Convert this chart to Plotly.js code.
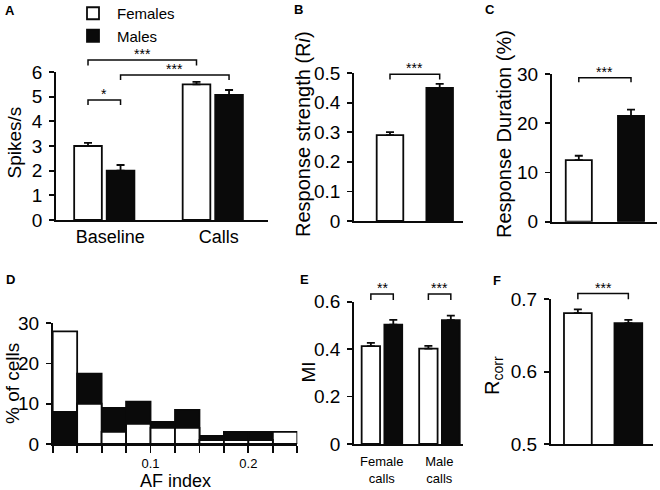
<!DOCTYPE html>
<html>
<head>
<meta charset="utf-8">
<script src="https://cdn.plot.ly/plotly-3.0.1.min.js"></script>
<style>
  html, body { margin: 0; padding: 0; background: #fff; }
  #plot { width: 660px; height: 490px; }
</style>
</head>
<body>
<div id="plot"></div>
<script>
// ---- data ----
const sexes = ['Females', 'Males'];

// A: firing rate
const conditions = ['Baseline', 'Calls'];
const spikesFemales = [3.0, 5.5];
const spikesFemalesErr = [0.13, 0.1];
const spikesMales = [2.0, 5.07];
const spikesMalesErr = [0.23, 0.2];

// B: response strength (females, males)
const respStrength = [0.29, 0.45];
const respStrengthErr = [0.01, 0.013];

// C: response duration (%)
const respDuration = [12.5, 21.5];
const respDurationErr = [0.9, 1.25];

// D: AF index histogram (% of cells)
const afBinStart = 0;
const afBinWidth = 0.025;
const afFemales = [28, 10, 3, 5, 4, 4, 1, 1, 1, 3];
const afMales = [8, 17.5, 9, 10.5, 5.5, 8.5, 2, 3, 3, 0];
const afTickVals = [0.1, 0.2];
const afTickText = ['0.1', '0.2'];

// E: MI
const callTypes = ['Female<br>calls', 'Male<br>calls'];
const miFemales = [0.413, 0.402];
const miFemalesErr = [0.013, 0.012];
const miMales = [0.503, 0.522];
const miMalesErr = [0.02, 0.019];

// F: Rcorr
const rcorr = [0.681, 0.667];
const rcorrErr = [0.005, 0.0045];

// significance brackets: [x0, x1, y, dip, stars]
const sigA = [[-0.15, 0.15, 4.86, 0.2, '*'], [-0.15, 0.85, 6.49, 0.23, '***'], [0.15, 1.15, 5.88, 0.2, '***']];
const sigB = [[0, 1, 0.496, 0.018, '***']];
const sigC = [[0, 1, 29.25, 0.95, '***']];
const sigE = [[-0.19, 0.2, 0.632, 0.025, '**'], [0.81, 1.2, 0.632, 0.025, '***']];
const sigF = [[0, 1, 0.708, 0.008, '***']];

// ---- layout helpers ----
const W = 660, H = 490;
const FONT = 'Liberation Sans, Arial, Helvetica, sans-serif';
const WHITE = '#ffffff', BLACK = '#0a0a0a';
const LW = 1.8;

// pixel boxes of each panel's plot area [left, right, top, bottom]
var panels = {
    A: { ax: '', box: [56, 268, 72, 220], xr: [-0.445, 1.509], yr: [0, 6] },
    B: { ax: '2', box: [354, 463, 73, 221], xr: [-0.724, 1.469], yr: [0, 0.5] },
    C: { ax: '3', box: [551.7, 656.7, 74, 221.7], xr: [-0.519, 1.492], yr: [0, 30] },
    D: { ax: '4', box: [52.7, 297.3, 323.3, 444], xr: [0, 0.25], yr: [0, 30] },
    E: { ax: '5', box: [354, 463.3, 301.7, 444], xr: [-0.483, 1.417], yr: [0, 0.6] },
    F: { ax: '6', box: [550.7, 653.3, 299.3, 444], xr: [-0.538, 1.494], yr: [0.5, 0.7] },
};

function xdom(p) { return [p.box[0] / W, p.box[1] / W]; }
function ydom(p) { return [1 - p.box[3] / H, 1 - p.box[2] / H]; }
function paperY(p, v) {
    var d = ydom(p);
    return d[0] + (v - p.yr[0]) / (p.yr[1] - p.yr[0]) * (d[1] - d[0]);
}

function errBar(arr) {
    return {
        type: 'data', symmetric: false, array: arr, arrayminus: arr.map(() => 0),
        color: BLACK, thickness: LW, width: 4,
    };
}

function bar(p, x, y, err, colors, offset, width, name, showlegend) {
    return {
        type: 'bar',
        x: x, y: y,
        xaxis: 'x' + p.ax, yaxis: 'y' + p.ax,
        offset: offset, width: width,
        marker: { color: colors, line: { color: BLACK, width: LW } },
        error_y: err ? errBar(err) : undefined,
        name: name || '',
        showlegend: !!showlegend,
        hoverinfo: 'skip',
    };
}

function runPlot() {
    var plotdiv = document.querySelector('#plot');
    var data = [];
    var idx2 = [0, 1];

    // A
    var pA = panels.A;
    data.push(bar(pA, idx2, spikesFemales, spikesFemalesErr, WHITE, -0.2775, 0.255, sexes[0], true));
    data.push(bar(pA, idx2, spikesMales, spikesMalesErr, BLACK, 0.0225, 0.255, sexes[1], true));

    // B, C, F: one bar per sex
    data.push(bar(panels.B, idx2, respStrength, respStrengthErr, [WHITE, BLACK], -0.2675, 0.535));
    data.push(bar(panels.C, idx2, respDuration, respDurationErr, [WHITE, BLACK], -0.25, 0.5));
    data.push(bar(panels.F, idx2, rcorr, rcorrErr, [WHITE, BLACK], -0.275, 0.55));

    // D: overlapping histogram, the taller of each bin drawn behind
    var pD = panels.D;
    var centers = afFemales.map((_, i) => afBinStart + afBinWidth * (i + 0.5));
    var back = [], backCol = [], front = [], frontCol = [];
    afFemales.forEach((f, i) => {
        var m = afMales[i];
        if (f >= m) {
            back.push(f); backCol.push(WHITE); front.push(m); frontCol.push(BLACK);
        } else {
            back.push(m); backCol.push(BLACK); front.push(f); frontCol.push(WHITE);
        }
    });
    data.push(bar(pD, centers, back, null, backCol, -afBinWidth / 2, afBinWidth));
    data.push(bar(pD, centers, front, null, frontCol, -afBinWidth / 2, afBinWidth));

    // E
    var pE = panels.E;
    data.push(bar(pE, idx2, miFemales, miFemalesErr, WHITE, -0.35, 0.32));
    data.push(bar(pE, idx2, miMales, miMalesErr, BLACK, 0.045, 0.31));

    var layout = {
        width: W, height: H,
        margin: { l: 0, r: 0, t: 0, b: 0, autoexpand: false },
        paper_bgcolor: '#fff', plot_bgcolor: 'rgba(0,0,0,0)',
        barmode: 'overlay',
        font: { family: FONT, color: '#000', size: 18 },
        showlegend: true,
        legend: {
            x: 69 / W, y: 1 + 3 / H, xanchor: 'left', yanchor: 'top',
            bgcolor: 'rgba(0,0,0,0)', borderwidth: 0,
            font: { family: FONT, size: 15, color: '#000' },
            traceorder: 'normal', tracegroupgap: 0, itemwidth: 38,
        },
        shapes: [],
        annotations: [],
    };

    var axBase = {
        showline: true, linecolor: BLACK, linewidth: LW,
        showgrid: false, zeroline: false, fixedrange: true,
        tickcolor: BLACK, tickwidth: LW,
        tickfont: { family: FONT, size: 19, color: '#000' },
    };

    for (var key in panels) {
        var p = panels[key];
        layout['xaxis' + p.ax] = Object.assign({}, axBase, {
            domain: xdom(p), range: p.xr, anchor: 'y' + p.ax,
            ticks: '', showticklabels: false,
        });
        layout['yaxis' + p.ax] = Object.assign({}, axBase, {
            domain: ydom(p), range: p.yr, anchor: 'x' + p.ax,
            ticks: 'outside', ticklen: 5, ticklabelstandoff: 3,
        });
    }

    layout.xaxis = Object.assign(layout.xaxis, {
        showticklabels: true, tickvals: idx2, ticktext: conditions,
        tickfont: { family: FONT, size: 18, color: '#000' }, ticklabelshift: 6, ticklabelstandoff: 0,
    });
    layout.yaxis.tickvals = [0, 1, 2, 3, 4, 5, 6];
    layout.yaxis2.tickvals = [0, 0.1, 0.2, 0.3, 0.4, 0.5];
    layout.yaxis2.ticktext = ['0', '0.1', '0.2', '0.3', '0.4', '0.5'];
    layout.yaxis3.tickvals = [0, 10, 20, 30];
    layout.yaxis4.tickvals = [0, 10, 20, 30];
    layout.yaxis5.tickvals = [0, 0.2, 0.4, 0.6];
    layout.yaxis5.ticktext = ['0', '0.2', '0.4', '0.6'];
    layout.yaxis6.tickvals = [0.5, 0.6, 0.7];

    // histogram axis: a tick at every bin edge, labels at 0.1 and 0.2 only
    layout.xaxis4 = Object.assign(layout.xaxis4, {
        ticks: 'outside', ticklen: 7, showticklabels: true,
        tickvals: afTickVals, ticktext: afTickText,
        minor: { tick0: afBinStart, dtick: afBinWidth, ticks: 'outside', ticklen: 7, tickwidth: LW, tickcolor: BLACK },
        tickfont: { family: FONT, size: 13, color: '#000' },
    });
    layout.xaxis5 = Object.assign(layout.xaxis5, {
        showticklabels: true, tickvals: idx2, ticktext: callTypes,
        tickfont: { family: FONT, size: 13, color: '#000' }, ticklabelstandoff: 5,
    });

    // significance brackets
    var sigs = [[panels.A, sigA], [panels.B, sigB], [panels.C, sigC], [panels.E, sigE], [panels.F, sigF]];
    sigs.forEach(([p, list]) => {
        list.forEach(s => {
            var yt = paperY(p, s[2]);
            var yb = paperY(p, s[2] - s[3]);
            layout.shapes.push({
                type: 'path', xref: 'x' + p.ax, yref: 'paper',
                path: `M ${s[0]},${yb} L ${s[0]},${yt} L ${s[1]},${yt} L ${s[1]},${yb}`,
                line: { color: BLACK, width: 1.5 },
            });
            layout.annotations.push({
                xref: 'x' + p.ax, yref: 'paper', x: (s[0] + s[1]) / 2, y: yt,
                yanchor: 'bottom', showarrow: false, text: s[4], yshift: -4,
                font: { family: FONT, size: 14, color: '#000' },
            });
        });
    });

    // axis titles and panel letters
    var texts = [
        ['Spikes/s', 14.5, 143, 19, -90],
        ['Response strength (R<i>i</i>)', 303, 134, 20, -90],
        ['Response Duration (%)', 504, 134, 20, -90],
        ['% of cells', 12, 384, 19, -90],
        ['MI', 308, 372.5, 19, -90],
        ['R<sub>corr</sub>', 493, 376, 20, -90],
        ['AF index', 175, 481, 18, 0],
        ['<b>A</b>', 10, 10, 13, 0],
        ['<b>B</b>', 298.5, 9, 13, 0],
        ['<b>C</b>', 490, 9, 13, 0],
        ['<b>D</b>', 10.5, 279, 13, 0],
        ['<b>E</b>', 304.5, 279, 13, 0],
        ['<b>F</b>', 497, 280, 13, 0],
    ];
    texts.forEach(t => {
        layout.annotations.push({
            xref: 'paper', yref: 'paper', x: t[1] / W, y: 1 - t[2] / H,
            xanchor: 'center', yanchor: 'middle', showarrow: false,
            text: t[0], textangle: t[4],
            font: { family: FONT, size: t[3], color: '#000' },
        });
    });

    var config = { displayModeBar: false, staticPlot: true };

    Plotly.newPlot(plotdiv, data, layout, config);
}

runPlot();
</script>
</body>
</html>
